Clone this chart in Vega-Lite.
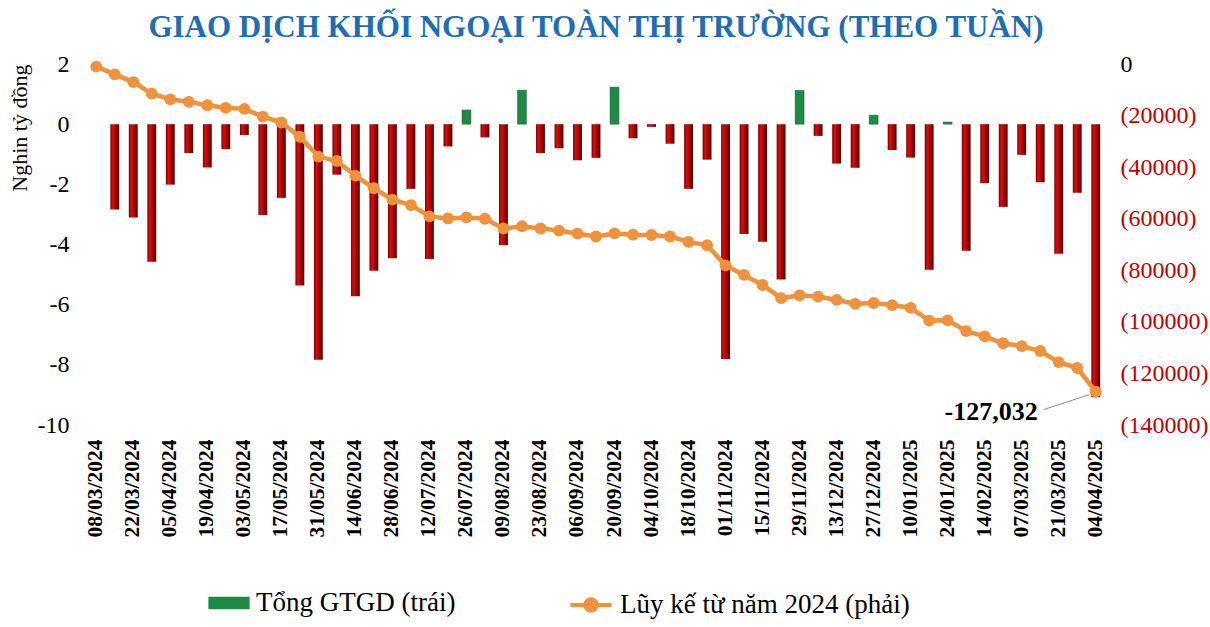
{
  "$schema": "https://vega.github.io/schema/vega-lite/v6.json",
  "autosize": {"type": "fit", "contains": "padding"},
  "width": 1210,
  "height": 627,
  "padding": {"left": 8, "right": 2, "top": 12, "bottom": 90},
  "background": "white",
  "title": {
    "text": "GIAO DỊCH KHỐI NGOẠI TOÀN THỊ TRƯỜNG (THEO TUẦN)",
    "font": "Liberation Serif",
    "fontSize": 31,
    "fontWeight": "bold",
    "color": "#1f6db3",
    "anchor": "middle",
    "offset": 8
  },
  "config": {
    "font": "Liberation Serif",
    "view": {"stroke": null},
    "legend": {
      "orient": "none",
      "direction": "horizontal",
      "padding": 0,
      "labelFont": "Liberation Serif",
      "labelFontSize": 27,
      "labelColor": "black",
      "labelLimit": 400,
      "labelOffset": 6
    }
  },
  "data": {
    "values": [
      {"date": "08/03/2024", "value": 0, "cum": -1000},
      {"date": "15/03/2024", "value": -2.84, "cum": -4000},
      {"date": "22/03/2024", "value": -3.1, "cum": -7000},
      {"date": "29/03/2024", "value": -4.57, "cum": -11500},
      {"date": "05/04/2024", "value": -2.01, "cum": -13700},
      {"date": "12/04/2024", "value": -0.96, "cum": -14700},
      {"date": "19/04/2024", "value": -1.44, "cum": -16000},
      {"date": "26/04/2024", "value": -0.83, "cum": -17000},
      {"date": "03/05/2024", "value": -0.36, "cum": -17400},
      {"date": "10/05/2024", "value": -3.02, "cum": -20400},
      {"date": "17/05/2024", "value": -2.45, "cum": -22700},
      {"date": "24/05/2024", "value": -5.36, "cum": -28200},
      {"date": "31/05/2024", "value": -7.83, "cum": -35900},
      {"date": "07/06/2024", "value": -1.68, "cum": -37600},
      {"date": "14/06/2024", "value": -5.72, "cum": -43300},
      {"date": "21/06/2024", "value": -4.87, "cum": -48200},
      {"date": "28/06/2024", "value": -4.46, "cum": -52600},
      {"date": "05/07/2024", "value": -2.15, "cum": -54700},
      {"date": "12/07/2024", "value": -4.48, "cum": -59100},
      {"date": "19/07/2024", "value": -0.74, "cum": -59900},
      {"date": "26/07/2024", "value": 0.47, "cum": -59500},
      {"date": "02/08/2024", "value": -0.44, "cum": -60000},
      {"date": "09/08/2024", "value": -4.02, "cum": -63800},
      {"date": "16/08/2024", "value": 1.13, "cum": -62900},
      {"date": "23/08/2024", "value": -0.96, "cum": -63800},
      {"date": "30/08/2024", "value": -0.8, "cum": -64600},
      {"date": "06/09/2024", "value": -1.2, "cum": -65800},
      {"date": "13/09/2024", "value": -1.12, "cum": -66900},
      {"date": "20/09/2024", "value": 1.23, "cum": -65700},
      {"date": "27/09/2024", "value": -0.47, "cum": -66200},
      {"date": "04/10/2024", "value": -0.09, "cum": -66300},
      {"date": "11/10/2024", "value": -0.65, "cum": -66900},
      {"date": "18/10/2024", "value": -2.15, "cum": -69000},
      {"date": "25/10/2024", "value": -1.18, "cum": -70300},
      {"date": "01/11/2024", "value": -7.81, "cum": -78100},
      {"date": "08/11/2024", "value": -3.65, "cum": -81800},
      {"date": "15/11/2024", "value": -3.91, "cum": -85700},
      {"date": "22/11/2024", "value": -5.16, "cum": -90800},
      {"date": "29/11/2024", "value": 1.12, "cum": -89700},
      {"date": "06/12/2024", "value": -0.39, "cum": -90200},
      {"date": "13/12/2024", "value": -1.31, "cum": -91500},
      {"date": "20/12/2024", "value": -1.45, "cum": -93000},
      {"date": "27/12/2024", "value": 0.3, "cum": -92700},
      {"date": "03/01/2025", "value": -0.86, "cum": -93500},
      {"date": "10/01/2025", "value": -1.11, "cum": -94600},
      {"date": "17/01/2025", "value": -4.84, "cum": -99500},
      {"date": "24/01/2025", "value": 0.07, "cum": -99400},
      {"date": "07/02/2025", "value": -4.21, "cum": -103600},
      {"date": "14/02/2025", "value": -1.96, "cum": -105600},
      {"date": "28/02/2025", "value": -2.75, "cum": -108300},
      {"date": "07/03/2025", "value": -1.02, "cum": -109400},
      {"date": "14/03/2025", "value": -1.93, "cum": -111300},
      {"date": "21/03/2025", "value": -4.31, "cum": -115600},
      {"date": "28/03/2025", "value": -2.28, "cum": -117900},
      {"date": "04/04/2025", "value": -9.08, "cum": -127032, "note": "-127,032"}
    ]
  },
  "encoding": {
    "x": {
      "field": "date",
      "type": "ordinal",
      "sort": null,
      "scale": {"paddingInner": 0.52},
      "axis": {
        "title": null,
        "domain": false,
        "ticks": false,
        "labelAngle": -90,
        "labelFontSize": 21.5,
        "labelFontWeight": "bold",
        "labelColor": "black",
        "labelPadding": 14,
        "values": ["08/03/2024", "22/03/2024", "05/04/2024", "19/04/2024", "03/05/2024", "17/05/2024", "31/05/2024", "14/06/2024", "28/06/2024", "12/07/2024", "26/07/2024", "09/08/2024", "23/08/2024", "06/09/2024", "20/09/2024", "04/10/2024", "18/10/2024", "01/11/2024", "15/11/2024", "29/11/2024", "13/12/2024", "27/12/2024", "10/01/2025", "24/01/2025", "14/02/2025", "07/03/2025", "21/03/2025", "04/04/2025"]
      }
    }
  },
  "layer": [
    {
      "layer": [
        {
          "mark": {"type": "rule", "color": "#d0d0d0", "strokeWidth": 1.5},
          "encoding": {"y": {"datum": 0}}
        },
        {
          "transform": [{"filter": "datum.value > 0"}],
          "mark": {"type": "bar", "stroke": "#0e5a28", "strokeWidth": 0.5},
          "encoding": {
            "y": {
              "field": "value",
              "type": "quantitative",
              "scale": {"domain": [-10, 2], "nice": false},
              "axis": {
                "title": "Nghin tỷ đồng",
                "titleFontSize": 22,
                "titleFontWeight": "normal",
                "titleColor": "black",
                "titleAnchor": "end",
                "titlePadding": 6,
                "values": [-10, -8, -6, -4, -2, 0, 2],
                "labelExpr": "datum.value < 0 ? '-' + (-datum.value) : '' + datum.value",
                "domain": false,
                "ticks": false,
                "labelFontSize": 24,
                "labelColor": "black",
                "labelPadding": 18,
                "gridColor": "#d9d9d9",
                "gridDash": [7, 5],
                "gridWidth": 1.2
              }
            },
            "fill": {
              "datum": "Tổng GTGD (trái)",
              "scale": {"range": ["#1f8a45"]},
              "legend": {
                "title": null,
                "legendX": 121,
                "legendY": 518,
                "symbolType": "M-1,-0.3H1V0.3H-1Z",
                "symbolSize": 1700,
                "symbolStrokeWidth": 0
              }
            }
          }
        },
        {
          "transform": [{"filter": "datum.value <= 0"}],
          "mark": {
            "type": "bar",
            "fill": {
              "gradient": "linear",
              "x1": 0, "x2": 1, "y1": 0, "y2": 0,
              "stops": [
                {"offset": 0, "color": "#7a0000"},
                {"offset": 0.3, "color": "#d41010"},
                {"offset": 0.65, "color": "#a00000"},
                {"offset": 1, "color": "#4d0000"}
              ]
            }
          },
          "encoding": {
            "y": {"field": "value", "type": "quantitative"}
          }
        }
      ]
    },
    {
      "layer": [
        {
          "mark": {"type": "line", "strokeWidth": 4.5},
          "encoding": {
            "y": {
              "field": "cum",
              "type": "quantitative",
              "scale": {"domain": [-140000, 0], "nice": false},
              "axis": {
                "title": null,
                "orient": "right",
                "values": [0, -20000, -40000, -60000, -80000, -100000, -120000, -140000],
                "labelExpr": "datum.value < 0 ? '(' + (-datum.value) + ')' : '0'",
                "labelColor": {"condition": {"test": "datum.value < 0", "value": "#c00000"}, "value": "black"},
                "labelFontSize": 24,
                "labelPadding": 15,
                "domain": false,
                "ticks": false,
                "grid": false
              }
            },
            "stroke": {
              "datum": "Lũy kế từ năm 2024 (phải)",
              "scale": {"range": ["#f0913c"]},
              "legend": {
                "title": null,
                "legendX": 481,
                "legendY": 518,
                "symbolType": "M-1,0H1M0.28,0A0.28,0.28,0,1,1,-0.28,0A0.28,0.28,0,1,1,0.28,0Z",
                "symbolSize": 1700,
                "symbolStrokeWidth": 4,
                "symbolFillColor": "#f0913c"
              }
            }
          }
        },
        {
          "mark": {"type": "point", "filled": true, "size": 140, "opacity": 1, "color": "#f0913c"},
          "encoding": {"y": {"field": "cum", "type": "quantitative"}}
        },
        {
          "transform": [{"filter": "datum.note"}],
          "mark": {"type": "rule", "color": "#8c8c8c", "strokeWidth": 1, "xOffset": -52, "yOffset": 18, "x2Offset": -6, "y2Offset": 3},
          "encoding": {
            "y": {"field": "cum", "type": "quantitative"},
            "x2": {"field": "date"},
            "y2": {"field": "cum"}
          }
        },
        {
          "transform": [{"filter": "datum.note"}],
          "mark": {"type": "text", "align": "right", "baseline": "middle", "dx": -58, "dy": 20, "fontSize": 26, "fontWeight": "bold", "color": "black"},
          "encoding": {
            "y": {"field": "cum", "type": "quantitative"},
            "text": {"field": "note"}
          }
        }
      ]
    }
  ],
  "resolve": {"scale": {"y": "independent"}, "axis": {"y": "independent"}}
}
